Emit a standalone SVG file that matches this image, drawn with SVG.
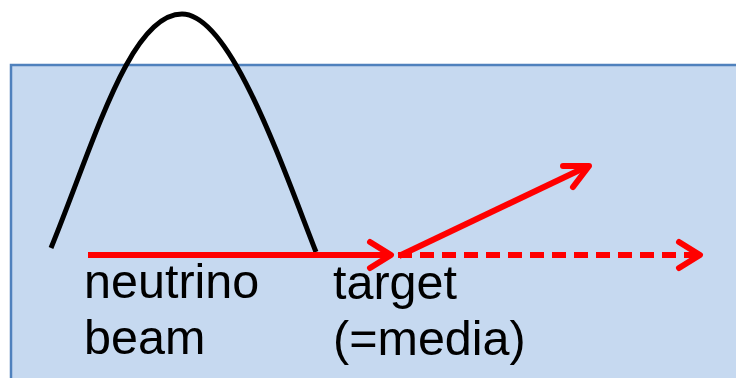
<svg xmlns="http://www.w3.org/2000/svg" width="736" height="378" viewBox="0 0 736 378">
  <defs>
    <style>
      .lbl { font-family: "Liberation Sans", Arial, sans-serif; font-size: 48.5px; fill: #000; }
      .ray { stroke: #FF0000; stroke-width: 6; fill: none; }
      .head { stroke: #FF0000; stroke-width: 6; fill: none; stroke-linecap: round; stroke-linejoin: round; }
    </style>
  </defs>
  <rect width="736" height="378" fill="#FFFFFF"/>
  <!-- medium -->
  <g id="medium">
    <rect x="11" y="65" width="740" height="330" fill="#C6D9F0" stroke="#4F81BD" stroke-width="2.5"/>
  </g>
  <!-- beam trajectory -->
  <g id="trajectory">
    <path d="M51,248 C95,140 130,14 182,14 C230,14 280,160 316,252" fill="none" stroke="#000" stroke-width="5"/>
  </g>
  <g id="connectors">
    <line class="ray" x1="88" y1="255" x2="389" y2="255"/>
    <polyline class="head" points="370,242 391,255 370,268"/>
    <line class="ray" x1="399" y1="256" x2="586" y2="167"/>
    <polyline class="head" points="563,166 589,166 573,187"/>
    <line class="ray" x1="398" y1="255" x2="696" y2="255" stroke-dasharray="14,8"/>
    <polyline class="head" points="679,242 700,255 679,268"/>
  </g>
  <g id="label-beam">
    <text class="lbl" x="84" y="298">neutrino</text>
    <text class="lbl" x="84" y="354">beam</text>
  </g>
  <g id="label-target">
    <text class="lbl" x="333" y="299">target</text>
    <text class="lbl" x="333" y="355">(=media)</text>
  </g>
</svg>
